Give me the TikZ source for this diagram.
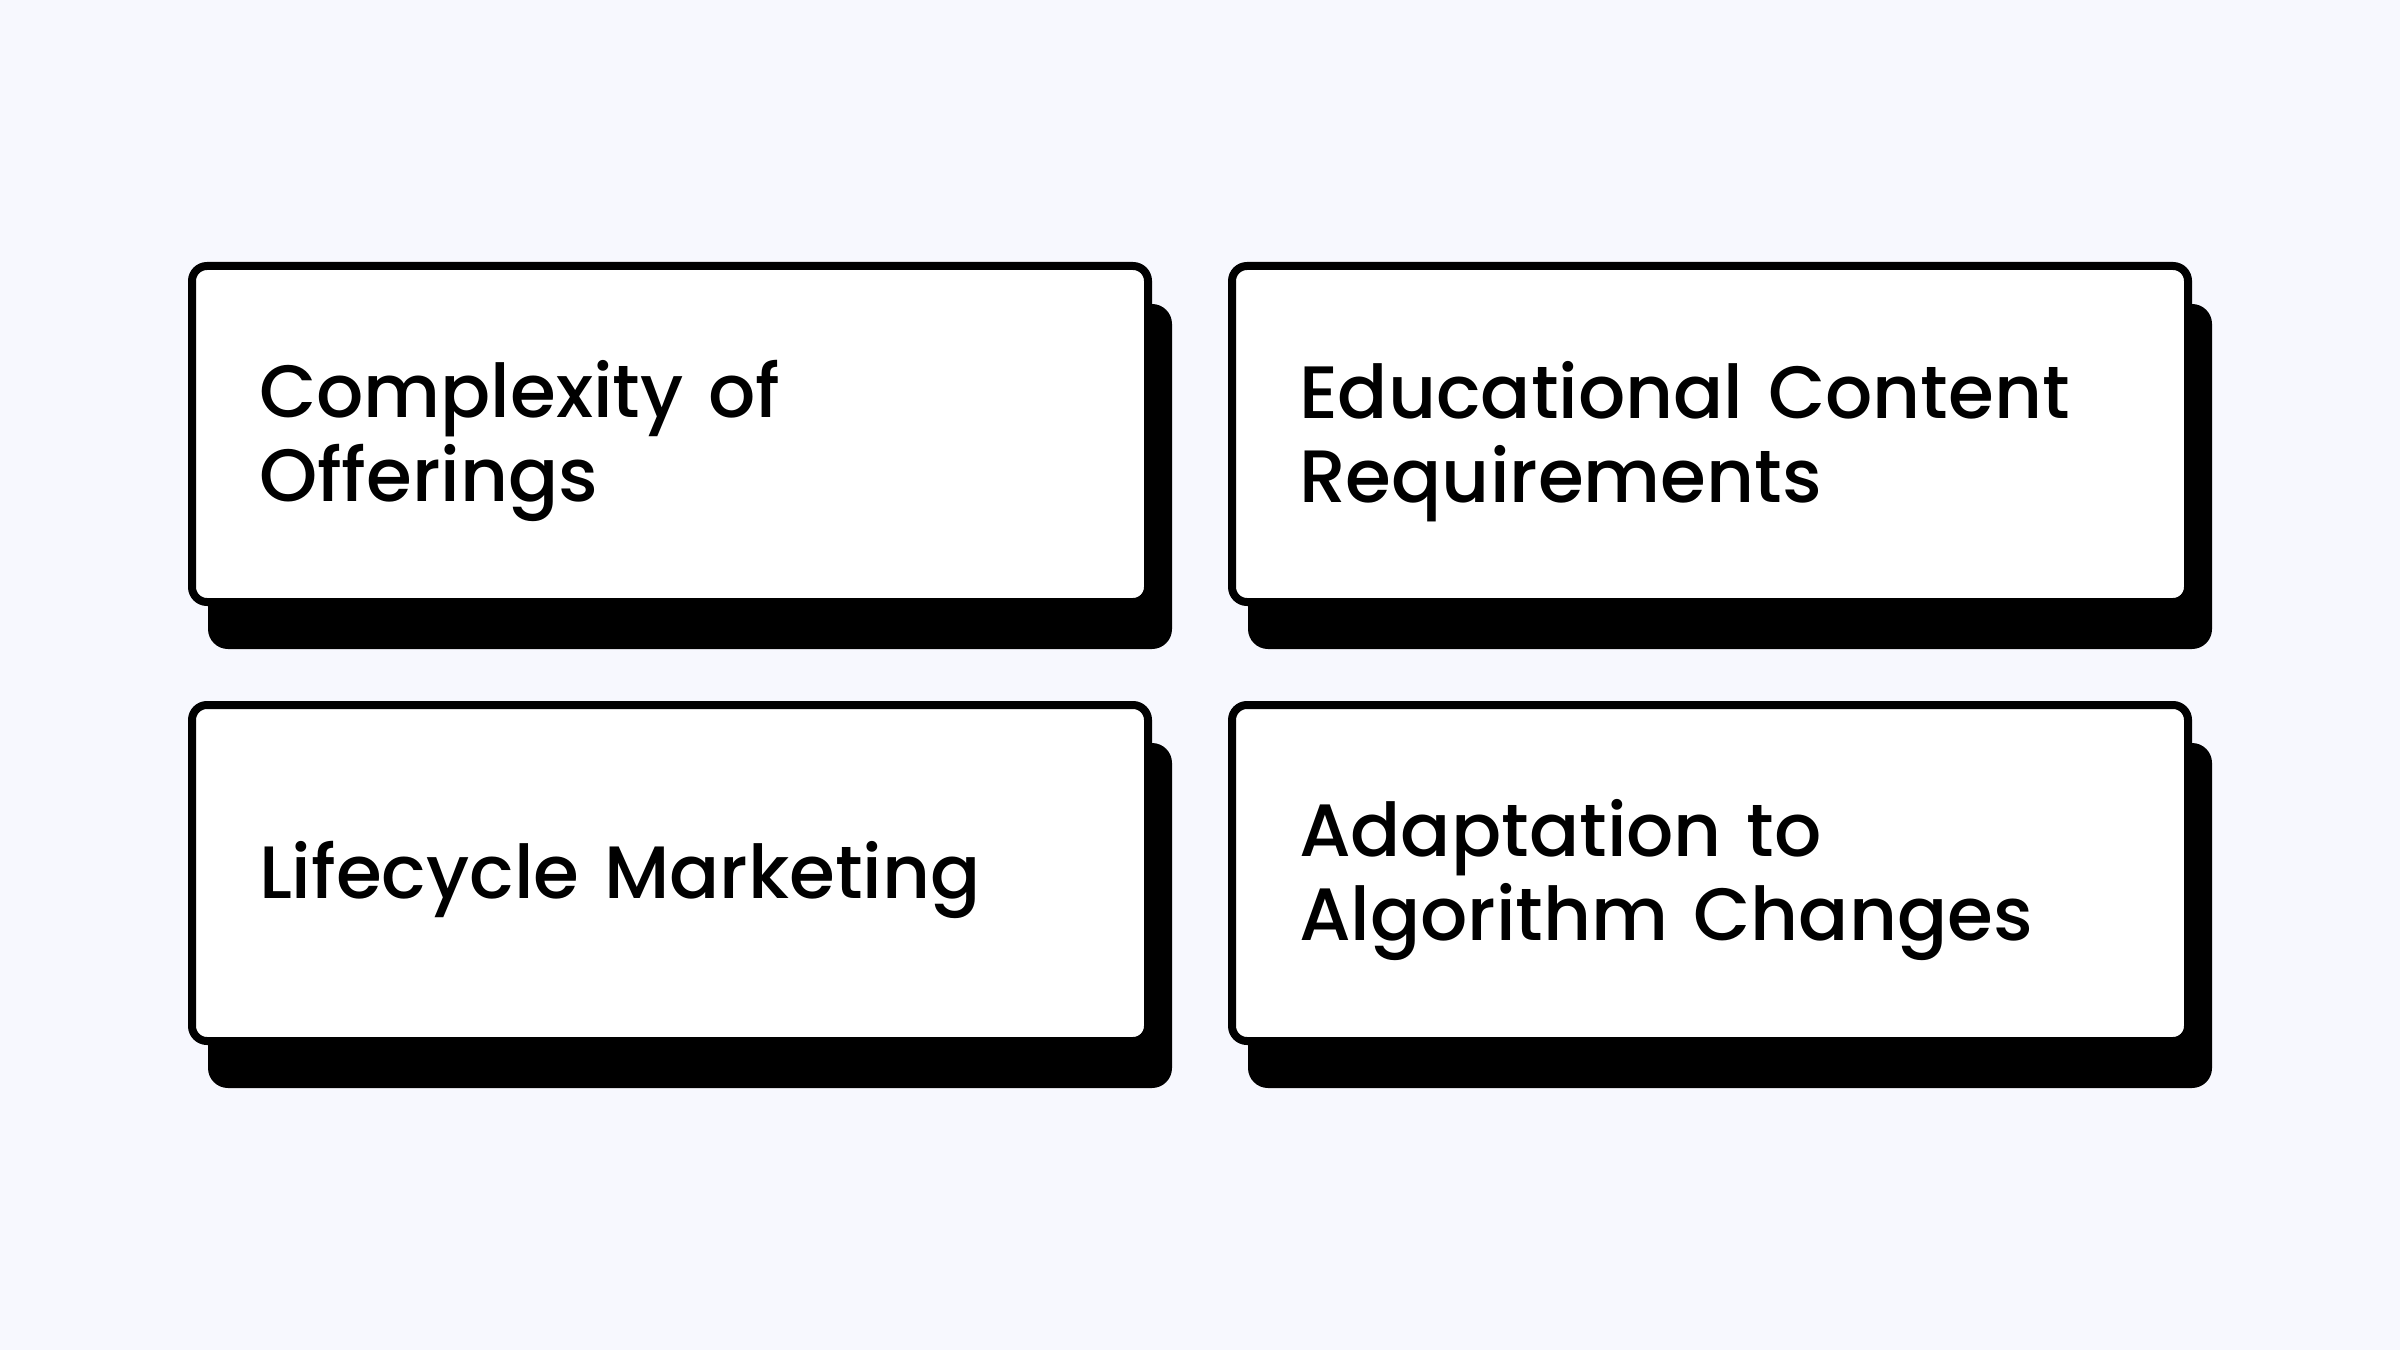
\documentclass[tikz,border=0pt]{standalone}
\usepackage{fontspec}
\setmainfont{Poppins}[UprightFont=* Medium]
\usepackage{tikz}
\usetikzlibrary{positioning,calc,backgrounds}
\definecolor{pagebg}{RGB}{247,248,254}

\begin{document}
\begin{tikzpicture}[
    font=\fontsize{21.1}{23.9}\selectfont,
    card/.style={draw=black, line width=0.08cm, rounded corners=0.15cm, fill=white,
        minimum width=9.56cm, minimum height=3.36cm, text width=8.22cm, align=left, inner sep=0pt,
        execute at begin node={\rule{0pt}{20.4pt}}},
    shade/.style={fill=black, rounded corners=0.2cm}
]
    \node[card] (cmplx) at (6.70,9.16) {Complexity of\\Offerings};
    \node[card, right=0.76cm of cmplx] (edu) {Educational Content\\Requirements};
    \node[card, below=0.95cm of cmplx] (life) {Lifecycle Marketing};
    \node[card, below=0.95cm of edu] (algo) {Adaptation to\\Algorithm Changes};

    \begin{pgfonlayer}{background}
        \fill[pagebg] (0,0) rectangle (24,13.5);
        \foreach \b in {cmplx,edu,life,algo}
            \fill[shade] ($(\b.south west)+(0.2,-0.43)$) rectangle ($(\b.north east)+(0.2,-0.42)$);
    \end{pgfonlayer}
    \useasboundingbox (0,0) rectangle (24,13.5);
\end{tikzpicture}
\end{document}
